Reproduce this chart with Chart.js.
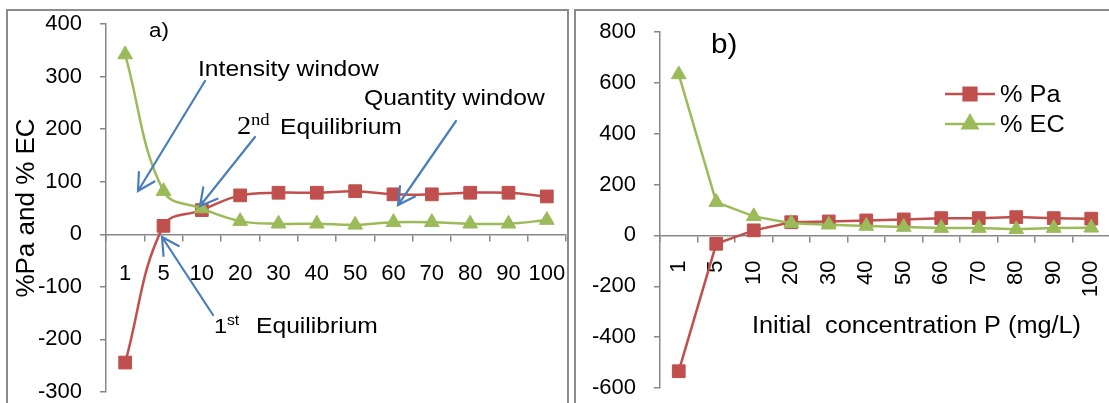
<!DOCTYPE html>
<html>
<head>
<meta charset="utf-8">
<script src="https://cdn.jsdelivr.net/npm/chart.js@4"></script>
<style>
    body { margin: 0; width: 1109px; height: 403px; overflow: hidden; position: relative; background: #fff; }
    .frame { position: absolute; border: 2px solid #8c8c8c; box-sizing: border-box; }
    #frameA { left: 6px; top: 9px; width: 563px; height: 420px; }
    #frameB { left: 574px; top: 9px; width: 600px; height: 420px; }
    canvas { position: absolute; top: 0; }
    #chartA { left: 0; }
    #chartB { left: 572px; }
</style>
</head>
<body>
<div class="frame" id="frameA"></div>
<div class="frame" id="frameB"></div>
<canvas id="chartA" width="570" height="403"></canvas>
<canvas id="chartB" width="538" height="403"></canvas>
<script>
// categories (initial P concentration, mg/L)
const concLabels = ['1', '5', '10', '20', '30', '40', '50', '60', '70', '80', '90', '100'];

// panel a)
const paA = [-244, 16, 46, 74, 79, 79, 82, 76, 76, 79, 79, 72];
const ecA = [342, 82, 49, 25, 20, 20, 18, 23, 23, 20, 20, 27];
const yMinA = -300, yMaxA = 400, yStepA = 100;

// panel b)
const paB = [-534, -33, 20, 52, 55, 59, 63, 68, 68, 72, 68, 66];
const ecB = [633, 131, 75, 48, 42, 37, 33, 29, 29, 24, 29, 30];
const yMinB = -600, yMaxB = 800, yStepB = 200;

const seriesNames = ['% Pa', '% EC'];

const RED = '#c0504d';
const GREEN = '#9bbb59';
const AXIS = '#878787';
const ARROW = '#4a7ebb';
const FONT = 'Liberation Sans, Arial, sans-serif';

// stretched text, the source picture is a bit wider than tall
function label(ctx, str, x, y, size, family, sx) {
    ctx.save();
    ctx.translate(x, y);
    ctx.scale(sx || 1.12, 1);
    ctx.font = size + 'px ' + (family || FONT);
    ctx.fillStyle = '#000';
    ctx.textAlign = 'left';
    ctx.textBaseline = 'alphabetic';
    ctx.fillText(str, 0, 0);
    ctx.restore();
}

function arrow(ctx, x1, y1, x2, y2) {
    const a = Math.atan2(y2 - y1, x2 - x1);
    const L = 19, s = 0.5;
    ctx.save();
    ctx.strokeStyle = ARROW;
    ctx.lineWidth = 2.2;
    ctx.lineCap = 'round';
    ctx.beginPath();
    ctx.moveTo(x1, y1);
    ctx.lineTo(x2, y2);
    ctx.moveTo(x2 - L * Math.cos(a - s), y2 - L * Math.sin(a - s));
    ctx.lineTo(x2, y2);
    ctx.lineTo(x2 - L * Math.cos(a + s), y2 - L * Math.sin(a + s));
    ctx.stroke();
    ctx.restore();
}

// the plot area is fixed by layout padding only, so drop the label overflow
function noMargins(s) {
    s.paddingTop = 0;
    s.paddingBottom = 0;
    s.paddingLeft = 0;
    s.paddingRight = 0;
}

function makeDatasets(pa, ec, tension) {
    return [{
        label: seriesNames[0],
        data: pa,
        borderColor: RED,
        backgroundColor: RED,
        borderWidth: 2.5,
        pointStyle: 'rect',
        pointRadius: 9,
        pointBorderWidth: 1,
        tension: tension,
        order: 1
    }, {
        label: seriesNames[1],
        data: ec,
        borderColor: GREEN,
        backgroundColor: GREEN,
        borderWidth: 2.5,
        pointStyle: 'triangle',
        pointRadius: 8.5,
        pointBorderWidth: 1,
        tension: tension,
        order: 0
    }];
}

function makeScales(yMin, yMax, yStep, yWidth, rotate, yTitle) {
    return {
        x: {
            type: 'category',
            position: { y: 0 },
            offset: true,
            grid: { offset: true, drawOnChartArea: false, tickLength: 6, color: AXIS, lineWidth: 1.5 },
            border: { color: AXIS, width: 1.5 },
            ticks: {
                color: '#000',
                font: { family: FONT, size: 22 },
                padding: rotate ? 19 : 20,
                autoSkip: false,
                minRotation: rotate ? 90 : 0,
                maxRotation: rotate ? 90 : 0
            },
            afterFit: s => { s.height = 0; noMargins(s); }
        },
        y: {
            min: yMin,
            max: yMax,
            grid: { drawOnChartArea: false, tickLength: 6, color: AXIS, lineWidth: 1.5 },
            border: { color: AXIS, width: 1.5 },
            ticks: { stepSize: yStep, color: '#000', font: { family: FONT, size: 22 }, padding: 18 },
            title: yTitle ? {
                display: true,
                text: yTitle,
                color: '#000',
                font: { family: FONT, size: 26 },
                padding: { top: 11, bottom: 0 }
            } : { display: false },
            afterFit: s => { s.width = yWidth; noMargins(s); }
        }
    };
}

const annotationsA = {
    id: 'annotationsA',
    afterDatasetsDraw(chart) {
        const ctx = chart.ctx;
        label(ctx, 'a)', 149, 37, 20);
        label(ctx, 'Intensity window', 198, 76, 22);
        label(ctx, 'Quantity window', 364, 105, 22);
        label(ctx, '2', 237, 134, 26, 'Liberation Serif, Times New Roman, serif', 1.1);
        label(ctx, 'nd', 251, 125, 17, 'Liberation Serif, Times New Roman, serif', 1.1);
        label(ctx, 'Equilibrium', 280, 134, 22);
        label(ctx, '1', 214, 333, 21);
        label(ctx, 'st', 227, 325, 14);
        label(ctx, 'Equilibrium', 256, 333, 22);

        arrow(ctx, 205, 81, 138, 191);
        arrow(ctx, 255, 137, 200, 206);
        arrow(ctx, 456, 121, 398, 205);
        arrow(ctx, 213, 315, 162, 237);
    }
};

const annotationsB = {
    id: 'annotationsB',
    afterDatasetsDraw(chart) {
        const ctx = chart.ctx;
        label(ctx, 'b)', 139, 53, 27, FONT, 1.1);
        label(ctx, 'Initial  concentration P (mg/L)', 180, 333, 23, FONT, 1.1);

        // legend: line with marker, then the name
        const sets = chart.data.datasets;
        [94, 124].forEach((y, i) => {
            const ds = sets[i];
            ctx.save();
            ctx.strokeStyle = ds.borderColor;
            ctx.lineWidth = 2.5;
            ctx.beginPath();
            ctx.moveTo(373, y);
            ctx.lineTo(423, y);
            ctx.stroke();
            ctx.fillStyle = ds.backgroundColor;
            Chart.helpers.drawPoint(ctx, {
                pointStyle: ds.pointStyle,
                radius: ds.pointRadius,
                borderWidth: 1
            }, 398, y);
            ctx.restore();
            label(ctx, ds.label, 428, y + 8, 23, FONT, 1.1);
        });
    }
};

new Chart(document.getElementById('chartA'), {
    type: 'line',
    data: { labels: concLabels, datasets: makeDatasets(paA, ecA, 0.4) },
    options: {
        responsive: false,
        animation: false,
        devicePixelRatio: 1,
        layout: { autoPadding: false, padding: { left: 0, right: 4, top: 24, bottom: 11 } },
        plugins: { legend: { display: false }, tooltip: { enabled: false } },
        scales: makeScales(yMinA, yMaxA, yStepA, 106, false, '%Pa and % EC')
    },
    plugins: [annotationsA]
});

new Chart(document.getElementById('chartB'), {
    type: 'line',
    data: { labels: concLabels, datasets: makeDatasets(paB, ecB, 0) },
    options: {
        responsive: false,
        animation: false,
        devicePixelRatio: 1,
        layout: { autoPadding: false, padding: { left: 0, right: 0, top: 32, bottom: 15 } },
        plugins: { legend: { display: false }, tooltip: { enabled: false } },
        scales: makeScales(yMinB, yMaxB, yStepB, 88, true, null)
    },
    plugins: [annotationsB]
});
</script>
</body>
</html>
